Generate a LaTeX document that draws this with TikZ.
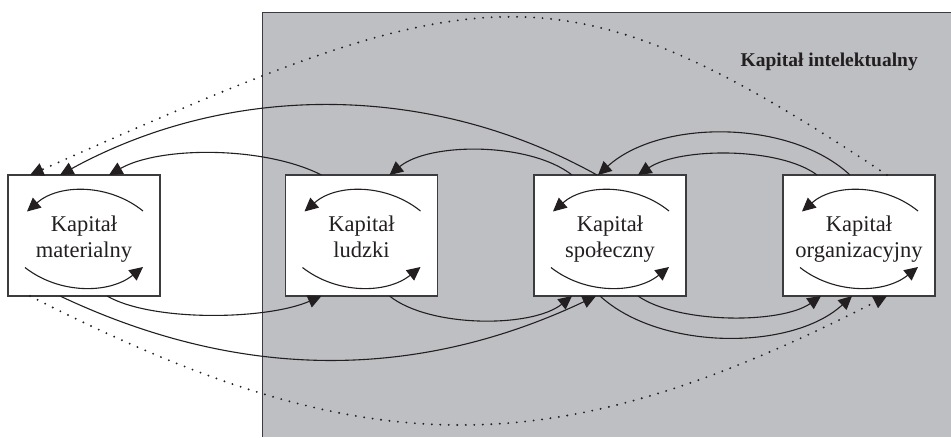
\documentclass[tikz,border=0pt]{standalone}
\usepackage{fontspec}
\setmainfont{Liberation Serif}
\usetikzlibrary{arrows.meta}
\definecolor{panelgray}{RGB}{190,191,195}
\definecolor{ink}{RGB}{35,31,32}
\definecolor{boxline}{RGB}{60,60,62}
\begin{document}
\begin{tikzpicture}[x=1pt,y=-1pt,
  capbox/.style={draw=boxline, line width=1.3pt, fill=white,
    minimum width=152pt, minimum height=121pt, inner sep=0pt, outer sep=0pt},
  captext/.style={font=\fontsize{22.5}{25.5}\selectfont, align=center, text=ink, inner sep=0pt},
  link/.style={draw=ink, line width=1.1pt, -{Triangle[length=13.5pt,width=13pt]}},
  dotlink/.style={link, line cap=round, dash pattern=on 0pt off 8.5pt, line width=2.1pt},
]
\useasboundingbox (0,0) rectangle (951,437);

% shaded region of intellectual capital
\fill[panelgray] (262,12) rectangle (951,437);
\draw[boxline, line width=1pt] (262,437) -- (262,12) -- (951,12);
\node[font=\bfseries\fontsize{19.5}{22}\selectfont, text=ink, anchor=base east, inner sep=0pt]
  (title) at (918,66) {Kapitał intelektualny};

% the four capital boxes
\node[capbox] (mat) at (84,235.5) {};
\node[capbox] (lud) at (361.5,235.5) {};
\node[capbox] (spo) at (610,235.5) {};
\node[capbox] (org) at (859,235.5) {};

\node[captext] (matT) at ([yshift=-4pt]mat.center) {\strut Kapitał\\\strut materialny};
\node[captext] (ludT) at ([yshift=-4pt]lud.center) {\strut Kapitał\\\strut ludzki};
\node[captext] (spoT) at ([yshift=-4pt]spo.center) {\strut Kapitał\\\strut społeczny};
\node[captext] (orgT) at ([yshift=-4pt]org.center) {\strut Kapitał\\\strut organizacyjny};

% self-reinforcing loops inside each box
\foreach \bx in {mat,lud,spo,org}{
  \draw[link] ([shift={(59,-24.5)}]\bx.center) .. controls +(-34,-27.5) and +(32,-28) .. ([shift={(-57,-24)}]\bx.center);
  \draw[link] ([shift={(-59,32)}]\bx.center) .. controls +(34,26.7) and +(-34,27.2) .. ([shift={(59,31.5)}]\bx.center);
}

% upper connectors (right to left)
\draw[dotlink] ([xshift=104pt]org.north west) .. controls +(-330,-220) and +(450,-200) .. ([xshift=22pt]mat.north west);
\draw[link] ([xshift=63pt]spo.north west) .. controls +(-167,-93) and +(170,-93) .. ([xshift=52pt]mat.north west);
\draw[link] ([xshift=36pt]lud.north west) .. controls +(-57,-29) and +(51,-29) .. ([xshift=101pt]mat.north west);
\draw[link] ([xshift=38pt]spo.north west) .. controls +(-42,-33) and +(40,-33) .. ([xshift=104pt]lud.north west);
\draw[link] ([xshift=67pt]org.north west) .. controls +(-60,-56) and +(62,-56) .. ([xshift=64pt]spo.north west);
\draw[link] ([xshift=34pt]org.north west) .. controls +(-37,-28) and +(42,-28) .. ([xshift=104pt]spo.north west);

% lower connectors (left to right)
\draw[link] ([xshift=99pt]mat.south west) .. controls +(45,26) and +(-55,24) .. ([xshift=36pt]lud.south west);
\draw[link] ([xshift=52pt]mat.south west) .. controls +(180,85) and +(-180,85) .. ([xshift=62pt]spo.south west);
\draw[dotlink] ([xshift=22pt]mat.south west) .. controls +(335,171) and +(-335,171) .. ([xshift=104pt]org.south west);
\draw[link] ([xshift=104pt]lud.south west) .. controls +(40,32) and +(-40,32) .. ([xshift=38pt]spo.south west);
\draw[link] ([xshift=66pt]spo.south west) .. controls +(60,55) and +(-60,55) .. ([xshift=69pt]org.south west);
\draw[link] ([xshift=104pt]spo.south west) .. controls +(40,28) and +(-40,28) .. ([xshift=38pt]org.south west);
\end{tikzpicture}
\end{document}
